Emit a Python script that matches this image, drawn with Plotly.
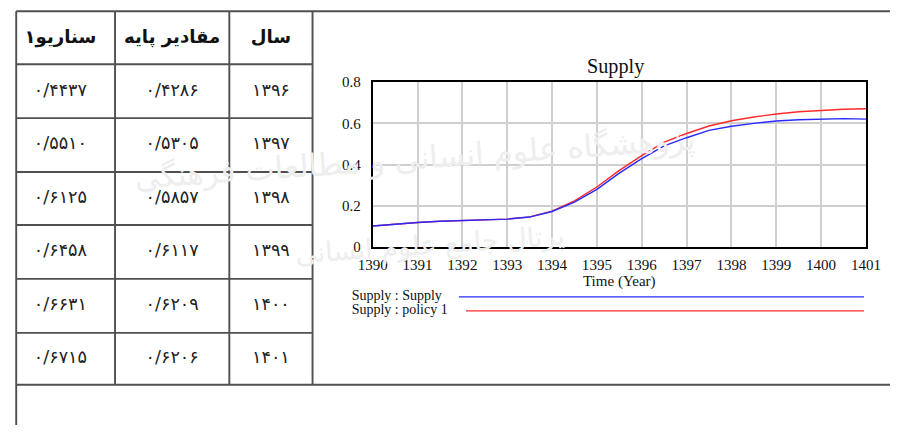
import plotly.graph_objects as go

# ---- Simulation output: Supply, half-year steps -------------------------
time = [1390, 1390.5, 1391, 1391.5, 1392, 1392.5, 1393, 1393.5, 1394, 1394.5,
        1395, 1395.5, 1396, 1396.5, 1397, 1397.5, 1398, 1398.5, 1399, 1399.5,
        1400, 1400.5, 1401]
supply_base = [0.102, 0.111, 0.119, 0.125, 0.129, 0.132, 0.135, 0.145, 0.172, 0.218,
               0.280, 0.358, 0.4286, 0.491, 0.5305, 0.566, 0.5857, 0.600, 0.6117, 0.618,
               0.6209, 0.623, 0.6206]
supply_policy1 = [0.102, 0.111, 0.119, 0.125, 0.129, 0.132, 0.135, 0.146, 0.174, 0.224,
                  0.291, 0.372, 0.4437, 0.509, 0.5510, 0.587, 0.6125, 0.631, 0.6458, 0.656,
                  0.6631, 0.669, 0.6715]

series_names = ["Supply : Supply", "Supply : policy 1"]
series_colors = ["#2a2aff", "#ff2a2a"]

# ---- Table: yearly values taken from the two runs ------------------------
table_years = [1396, 1397, 1398, 1399, 1400, 1401]
table_headers = ["سال", "مقادیر پایه", "سناریو۱"]   # right-to-left columns

# ---- page geometry -------------------------------------------------------
# Figure is 905x433 inside the page body (8px body margin).  Everything below is
# laid out in a "design" pixel space; S / OX / OY relate design pixels to the
# page, and the hidden overlay axes use design pixels directly.
W, H = 905, 433
PAD = 8
S, OX, OY = 0.9644, 8.5, 0.0


def fig_x(xd):
    return (xd - OX) / S - PAD


def fig_y(yd):
    return (yd - OY) / S - PAD


def fs(size):
    return round(size / S, 2)


DX0, DX1 = S * PAD + OX, S * (W + PAD) + OX          # design x at figure edges
DY0, DY1 = S * PAD + OY, S * (H + PAD) + OY          # design y at figure edges

FA_DIGITS = str.maketrans("0123456789.", "۰۱۲۳۴۵۶۷۸۹/")


def fa_num(v, fmt):
    return format(v, fmt).translate(FA_DIGITS)


serif = "Liberation Serif, Times New Roman, serif"
persian = "DejaVu Sans, sans-serif"

fig = go.Figure()

# curves (policy run underneath, base run on top)
fig.add_trace(go.Scatter(x=time, y=supply_policy1, mode="lines", name=series_names[1],
                         line=dict(color=series_colors[1], width=1.45), showlegend=False))
fig.add_trace(go.Scatter(x=time, y=supply_base, mode="lines", name=series_names[0],
                         line=dict(color=series_colors[0], width=1.45), showlegend=False))

page = dict(xaxis="x2", yaxis="y2")

col_edges = [7, 116, 230, 313]
row_edges = [11, 64, 118, 172, 225, 279, 333, 385]
col_centers = [(col_edges[i] + col_edges[i + 1]) / 2 for i in range(3)]  # left→right
row_centers = [(row_edges[i] + row_edges[i + 1]) / 2 for i in range(len(row_edges) - 1)]

# header row: year on the right, base values in the middle, scenario on the left
fig.add_trace(go.Scatter(
    x=col_centers[::-1], y=[row_centers[0] + 1] * 3,
    text=["<b>" + t + "</b>" for t in table_headers],
    mode="text", textposition="middle center", cliponaxis=False, hoverinfo="skip",
    textfont=dict(family=persian, size=fs(17.5), color="#111"), showlegend=False, **page))

# body rows
cell_x, cell_y, cell_text = [], [], []
for i, yr in enumerate(table_years):
    k = time.index(yr)
    cells = [fa_num(supply_policy1[k], ".4f"), fa_num(supply_base[k], ".4f"), fa_num(yr, "d")]
    for text, cx in zip(cells, col_centers):
        cell_x.append(cx)
        cell_y.append(row_centers[i + 1])
        cell_text.append(text)
fig.add_trace(go.Scatter(
    x=cell_x, y=cell_y, text=cell_text,
    mode="text", textposition="middle center", cliponaxis=False, hoverinfo="skip",
    textfont=dict(family=persian, size=fs(17), color="#222"), showlegend=False, **page))

# legend block: label + long line sample
legend_rows = [297, 311]
legend_line_start = [459, 466]
fig.add_trace(go.Scatter(
    x=[352, 352], y=legend_rows, text=series_names,
    mode="text", textposition="middle right", cliponaxis=False, hoverinfo="skip",
    textfont=dict(family=serif, size=fs(13.5), color="#111"), showlegend=False, **page))

fig.update_layout(
    width=W, height=H, autosize=False,
    margin=dict(l=0, r=0, t=0, b=0),
    paper_bgcolor="white", plot_bgcolor="rgba(0,0,0,0)",
    showlegend=False,
    xaxis=dict(domain=[fig_x(373) / W, fig_x(865) / W], range=[1390, 1401],
               dtick=1, tick0=1390,
               showgrid=True, gridcolor="#cfcfcf", gridwidth=1.5,
               showline=True, linecolor="black", linewidth=2, mirror=True,
               zeroline=False, ticks="", ticklabelstandoff=3,
               tickfont=dict(family=serif, size=fs(14.5), color="#111"),
               title=dict(text="Time (Year)", standoff=2,
                          font=dict(family=serif, size=fs(14.5), color="#111"))),
    yaxis=dict(domain=[1 - fig_y(247) / H, 1 - fig_y(82) / H], range=[0, 0.8],
               dtick=0.2, tick0=0,
               showgrid=True, gridcolor="#cfcfcf", gridwidth=1.5,
               showline=True, linecolor="black", linewidth=2, mirror=True,
               zeroline=False, ticks="", ticklabelstandoff=7,
               tickfont=dict(family=serif, size=fs(14.5), color="#111")),
    xaxis2=dict(domain=[0, 1], range=[DX0, DX1], visible=False, anchor="y2",
                fixedrange=True),
    yaxis2=dict(domain=[0, 1], range=[DY1, DY0], visible=False, anchor="x2",
                fixedrange=True),
)

shapes = []
annotations = []


def rule(x0, y0, x1, y1, **line):
    shapes.append(dict(type="line", xref="x2", yref="y2", x0=x0, y0=y0, x1=x1, y1=y1,
                       line=line, layer="above"))


for name, color, ly, lx in zip(series_names, series_colors, legend_rows, legend_line_start):
    rule(lx, ly, 863, ly, color=color, width=1.45)

# table grid; top and bottom rules run across the whole page
border = dict(color="#505050", width=1.9)
left = max(col_edges[0], DX0 + 1.2)
rule(left, row_edges[0], DX1, row_edges[0], **border)
rule(left, row_edges[-1], DX1, row_edges[-1], **border)
rule(left, row_edges[0], left, DY1, **border)
for cx in col_edges[1:]:
    rule(cx, row_edges[0], cx, row_edges[-1], **border)
for ry in row_edges[1:-1]:
    rule(left, ry, col_edges[-1], ry, **border)

# chart title
annotations.append(dict(text="Supply", x=616, y=66, xref="x2", yref="y2",
                        showarrow=False, xanchor="center", yanchor="middle",
                        font=dict(family=serif, size=fs(19.5), color="#111")))

# faint institute watermark
annotations.append(dict(text="پژوهشگاه علوم انسانی و مطالعات فرهنگی", x=415, y=158,
                        xref="x2", yref="y2", showarrow=False, textangle=-4, align="left",
                        font=dict(family=persian, size=fs(30), color="#eeeeee")))
annotations.append(dict(text="پرتال جامع علوم انسانی", x=430, y=245,
                        xref="x2", yref="y2", showarrow=False, textangle=-4, align="left",
                        font=dict(family=persian, size=fs(26), color="#eeeeee")))

fig.update_layout(shapes=shapes, annotations=annotations)
fig.write_html("out.html")
